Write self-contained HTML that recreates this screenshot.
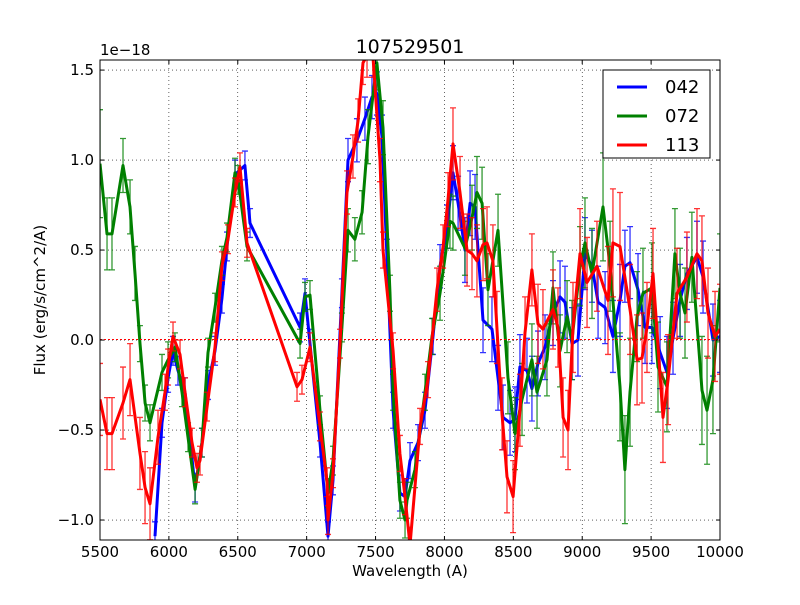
<!DOCTYPE html>
<html><head><meta charset="utf-8"><style>
body{margin:0;background:#fff;width:800px;height:600px;overflow:hidden}
svg text{font-family:"DejaVu Sans","Liberation Sans",sans-serif}
</style></head><body>
<svg id="chart" width="800" height="600" xmlns="http://www.w3.org/2000/svg">
<rect width="800" height="600" fill="#fff"/>
<defs><clipPath id="pc"><rect x="100" y="60" width="620" height="480"/></clipPath></defs>
<g id="grid"></g>
<g id="series" clip-path="url(#pc)"></g>
<rect x="100" y="60" width="620" height="480" fill="none" stroke="#000" stroke-width="1"/>
<g id="ticks"></g>
<text x="410" y="53" font-size="19" text-anchor="middle">107529501</text>
<text x="100" y="55" font-size="15">1e−18</text>
<text x="410" y="576" font-size="15" text-anchor="middle">Wavelength (A)</text>
<text transform="translate(45,300) rotate(-90)" font-size="15" text-anchor="middle">Flux (erg/s/cm^2/A)</text>
<g>
<rect x="603" y="70" width="107" height="88" fill="#fff" stroke="#000" stroke-width="1"/>
<g><line x1="617" y1="87" x2="647" y2="87" stroke="#0000ff" stroke-width="3"/><text x="665" y="93" font-size="18">042</text></g>
<g><line x1="617" y1="116" x2="647" y2="116" stroke="#008000" stroke-width="3"/><text x="665" y="122" font-size="18">072</text></g>
<g><line x1="617" y1="145" x2="647" y2="145" stroke="#ff0000" stroke-width="3"/><text x="665" y="151" font-size="18">113</text></g>
</g>
</svg>
<script>
const xTicks=[5500,6000,6500,7000,7500,8000,8500,9000,9500,10000];
const yTicks=[-1.0,-0.5,0.0,0.5,1.0,1.5];
const yTickLabels=["−1.0","−0.5","0.0","0.5","1.0","1.5"];
const blueX=[5899,5950,5994,6030,6066,6117,6190,6240,6284,6335,6385,6422,6480,6552,6589,6952,6988,7024,7097,7155,7191,7256,7300,7365,7423,7474,7510,7547,7583,7627,7677,7714,7750,7808,7859,7917,7968,8019,8062,8099,8149,8186,8222,8280,8345,8389,8425,8476,8512,8548,8599,8635,8679,8730,8788,8839,8875,8926,8969,9020,9071,9115,9166,9223,9274,9310,9347,9405,9456,9506,9565,9615,9659,9710,9760,9833,9877,9949,10000];
const blueY=[-1.09,-0.46,-0.21,-0.06,-0.17,-0.29,-0.82,-0.57,-0.25,-0.06,0.23,0.52,0.92,0.97,0.65,0.07,0.26,-0.02,-0.57,-1.09,-0.78,0.26,1.00,1.11,1.23,1.35,1.37,1.13,0.46,-0.39,-0.85,-0.87,-0.67,-0.57,-0.39,0.02,0.41,0.63,0.93,0.76,0.50,0.76,0.74,0.11,0.06,-0.21,-0.43,-0.46,-0.44,-0.15,-0.17,-0.27,-0.13,-0.04,0.15,0.24,0.21,-0.02,0.00,0.48,0.41,0.21,0.18,0.02,0.22,0.41,0.43,0.28,0.07,0.07,-0.07,-0.18,0.01,0.22,0.37,0.46,0.35,0.00,0.02];
const blueErr=[0.08,0.08,0.08,0.08,0.08,0.08,0.08,0.08,0.08,0.08,0.08,0.08,0.08,0.08,0.08,0.08,0.08,0.08,0.08,0.08,0.08,0.08,0.12,0.12,0.12,0.12,0.12,0.12,0.1,0.1,0.1,0.1,0.1,0.1,0.1,0.1,0.12,0.12,0.15,0.15,0.18,0.18,0.18,0.18,0.18,0.18,0.18,0.18,0.18,0.18,0.18,0.18,0.18,0.18,0.18,0.2,0.2,0.2,0.2,0.2,0.2,0.2,0.2,0.2,0.2,0.2,0.2,0.2,0.2,0.2,0.2,0.2,0.2,0.2,0.2,0.2,0.2,0.2,0.2];
const greenX=[5500,5551,5587,5667,5718,5754,5790,5827,5863,5950,5994,6044,6095,6139,6190,6240,6284,6335,6385,6422,6480,6502,6567,6952,6988,7024,7097,7155,7191,7256,7300,7350,7402,7445,7510,7554,7605,7627,7677,7714,7728,7786,7859,7910,7968,8040,8062,8149,8200,8236,8273,8316,8389,8461,8512,8563,8635,8672,8744,8788,8839,8890,8926,8984,9020,9071,9151,9202,9274,9310,9347,9398,9441,9506,9550,9615,9673,9710,9746,9796,9869,9906,9949,10000];
const greenY=[0.98,0.59,0.59,0.97,0.74,0.37,-0.02,-0.35,-0.46,-0.18,-0.11,-0.04,-0.29,-0.54,-0.83,-0.57,-0.07,0.18,0.44,0.57,0.93,0.89,0.52,-0.02,0.24,0.25,-0.39,-0.85,-0.67,0.07,0.61,0.56,0.71,1.13,1.54,1.18,0.26,-0.29,-0.89,-1.00,-0.89,-0.72,-0.29,0.02,0.26,0.66,0.65,0.51,0.68,0.82,0.76,0.28,0.61,-0.21,-0.52,-0.33,-0.11,-0.29,-0.11,0.29,-0.06,0.13,0.00,0.41,0.54,0.37,0.74,0.41,-0.26,-0.72,-0.29,0.13,0.26,0.29,-0.15,-0.26,0.48,0.26,0.15,0.46,-0.28,-0.39,-0.22,0.29];
const greenErr=[0.3,0.2,0.2,0.15,0.15,0.15,0.1,0.1,0.1,0.1,0.1,0.08,0.08,0.08,0.08,0.08,0.08,0.08,0.08,0.08,0.08,0.08,0.08,0.08,0.08,0.08,0.08,0.08,0.08,0.08,0.12,0.12,0.12,0.15,0.15,0.15,0.1,0.1,0.1,0.1,0.1,0.1,0.1,0.1,0.15,0.15,0.15,0.15,0.18,0.2,0.2,0.2,0.2,0.2,0.2,0.2,0.2,0.2,0.2,0.2,0.2,0.2,0.22,0.22,0.25,0.25,0.3,0.25,0.3,0.3,0.3,0.25,0.25,0.25,0.25,0.25,0.25,0.25,0.25,0.25,0.3,0.3,0.3,0.3];
const redX=[5500,5551,5587,5667,5718,5790,5827,5863,5921,5972,5994,6030,6081,6117,6168,6204,6226,6277,6335,6385,6429,6480,6516,6567,6930,6966,7024,7097,7148,7155,7191,7242,7293,7336,7373,7409,7438,7481,7532,7554,7627,7677,7714,7750,7823,7881,7946,7990,8026,8062,8113,8164,8200,8236,8280,8309,8352,8381,8418,8454,8498,8548,8585,8635,8679,8715,8788,8824,8861,8897,8933,8984,9035,9107,9187,9223,9274,9347,9398,9434,9470,9514,9586,9623,9688,9760,9833,9869,9913,9964,10000];
const redY=[-0.33,-0.52,-0.52,-0.35,-0.22,-0.63,-0.82,-0.91,-0.54,-0.29,-0.15,0.02,-0.08,-0.29,-0.57,-0.71,-0.67,-0.37,-0.04,0.41,0.56,0.82,0.96,0.54,-0.26,-0.22,-0.04,-0.48,-0.79,-1.00,-0.74,-0.02,0.82,1.02,1.22,1.54,1.58,1.58,1.00,0.50,-0.06,-0.63,-0.87,-1.14,-0.48,-0.22,0.28,0.52,0.78,1.09,0.82,0.50,0.48,0.44,0.53,0.54,0.44,0.07,-0.41,-0.76,-0.87,-0.39,0.04,0.39,0.09,0.06,0.17,0.07,-0.43,-0.50,0.07,0.48,0.32,0.41,0.22,0.54,0.52,0.17,-0.11,-0.10,0.07,0.37,-0.43,-0.22,0.26,0.35,0.48,0.44,0.15,0.02,0.06];
const redErr=[0.2,0.2,0.2,0.2,0.2,0.2,0.2,0.2,0.15,0.1,0.1,0.08,0.08,0.08,0.08,0.08,0.08,0.08,0.08,0.08,0.08,0.08,0.08,0.08,0.08,0.08,0.08,0.08,0.08,0.08,0.08,0.08,0.12,0.12,0.12,0.12,0.12,0.12,0.12,0.1,0.1,0.1,0.1,0.1,0.1,0.1,0.12,0.12,0.15,0.2,0.2,0.2,0.2,0.2,0.2,0.2,0.2,0.2,0.2,0.2,0.2,0.2,0.2,0.2,0.22,0.22,0.22,0.22,0.22,0.22,0.25,0.25,0.25,0.25,0.3,0.3,0.3,0.25,0.25,0.25,0.25,0.25,0.25,0.25,0.25,0.25,0.25,0.25,0.25,0.25,0.25];

const NS='http://www.w3.org/2000/svg';
const X0=100,X1=720,Y0=540,Y1=60,XMIN=5500,XMAX=10000,YMIN=-1.111,YMAX=1.556;
function sx(v){return X0+(v-XMIN)/(XMAX-XMIN)*(X1-X0);}
function sy(v){return Y0-(v-YMIN)/(YMAX-YMIN)*(Y0-Y1);}
function mk(tag,attrs,parent){const e=document.createElementNS(NS,tag);for(const k in attrs)e.setAttribute(k,attrs[k]);parent.appendChild(e);return e;}
const grid=document.getElementById('grid'),ticks=document.getElementById('ticks'),ser=document.getElementById('series');
xTicks.forEach(t=>{const x=sx(t);
 const g=mk('line',{x1:x,x2:x,y1:Y1,y2:Y0,stroke:'#000','stroke-width':0.6,'stroke-dasharray':'1,3'},grid);
 
 
 mk('line',{x1:x,x2:x,y1:Y0,y2:Y0-4,stroke:'#000'},ticks);
 mk('line',{x1:x,x2:x,y1:Y1,y2:Y1+4,stroke:'#000'},ticks);
 const tx=mk('text',{x:x,y:Y0+17,'font-size':15,'text-anchor':'middle'},ticks);tx.textContent=t;
 
 
});
yTicks.forEach((t,i)=>{const y=sy(t);
 const g=mk('line',{x1:X0,x2:X1,y1:y,y2:y,stroke:'#000','stroke-width':0.6,'stroke-dasharray':'1,3'},grid);
 
 
 mk('line',{x1:X0,x2:X0+4,y1:y,y2:y,stroke:'#000'},ticks);
 mk('line',{x1:X1,x2:X1-4,y1:y,y2:y,stroke:'#000'},ticks);
 const tx=mk('text',{x:X0-6,y:y+5,'font-size':15,'text-anchor':'end'},ticks);tx.textContent=yTickLabels[i];
 
 
});
function drawSeries(name,xs,ys,es,color){
 const g=mk('g',{},ser);
 
 
 const z=mk('line',{x1:X0,x2:X1,y1:sy(0)-0.5,y2:sy(0)-0.5,stroke:color,'stroke-width':1,'stroke-dasharray':'2,2'},g);
 
 
 xs.forEach((x,i)=>{const px=sx(x),a=sy(ys[i]+es[i]),b=sy(ys[i]-es[i]);
  const eb=mk('path',{d:`M${px},${a}V${b}M${px-3},${a}h6M${px-3},${b}h6`,stroke:color,'stroke-width':1.3,fill:'none','stroke-opacity':0.8},g);
  
  
 });
 const d=xs.map((x,i)=>(i?'L':'M')+sx(x).toFixed(1)+','+sy(ys[i]).toFixed(1)).join('');
 const p=mk('path',{d:d,stroke:color,'stroke-width':3,fill:'none','stroke-linejoin':'round'},g);
 
 
}
drawSeries('042',blueX,blueY,blueErr,'#0000ff');
drawSeries('072',greenX,greenY,greenErr,'#008000');
drawSeries('113',redX,redY,redErr,'#ff0000');
</script>
</body></html>
